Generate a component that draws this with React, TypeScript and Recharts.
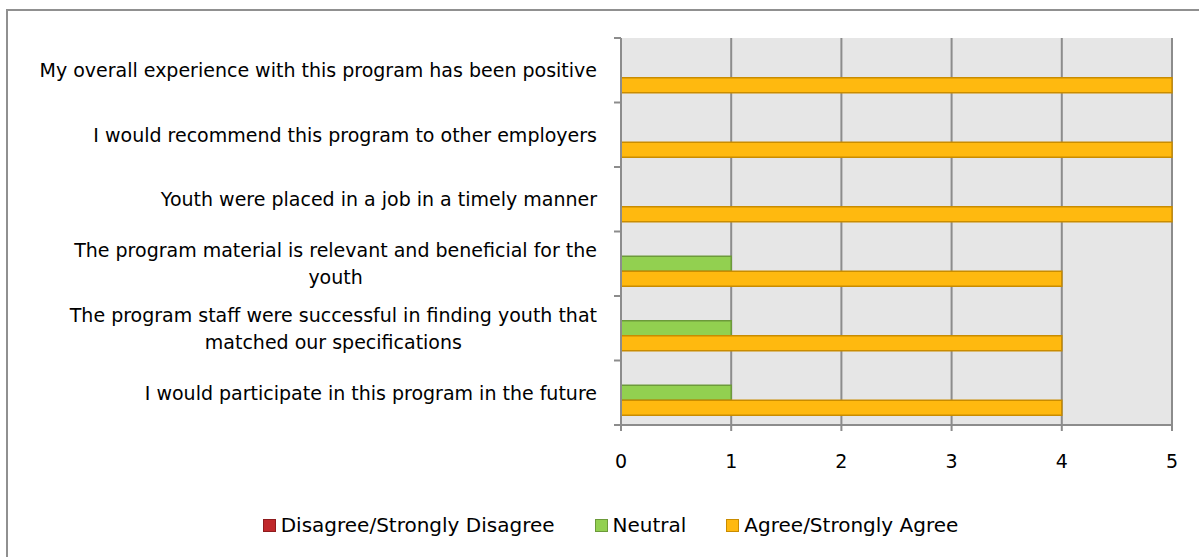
import React from 'react';
import { BarChart, Bar, XAxis, YAxis, CartesianGrid, Legend } from 'recharts';

const categories = [
  'My overall experience with this program has been positive',
  'I would recommend this program to other employers',
  'Youth were placed in a job in a timely manner',
  'The program material is relevant and beneficial for the youth',
  'The program staff were successful in finding youth that matched our specifications',
  'I would participate in this program in the future',
];
const disagreeValues = [0, 0, 0, 0, 0, 0];
const neutralValues = [0, 0, 0, 1, 1, 1];
const agreeValues = [5, 5, 5, 4, 4, 4];
const xTicks = [0, 1, 2, 3, 4, 5];

const seriesInfo = [
  { key: 'disagree', name: 'Disagree/Strongly Disagree', fill: '#C0282B', stroke: '#8E1C1E' },
  { key: 'neutral', name: 'Neutral', fill: '#92D050', stroke: '#6C9A3A' },
  { key: 'agree', name: 'Agree/Strongly Agree', fill: '#FFB90F', stroke: '#C98C00' },
];

const data = categories.map((name, i) => ({
  name,
  disagree: disagreeValues[i],
  neutral: neutralValues[i],
  agree: agreeValues[i],
}));

const W = 1199;
const H = 557;
const TOP = 38;
const BOTTOM = 132;
const PLOT_LEFT = 621;
const BAND = (H - TOP - BOTTOM) / categories.length;
const FONT = '"DejaVu Sans", sans-serif';
const LABEL_SIZE = 19;
const GRID = '#8c8c8c';

let ctx: CanvasRenderingContext2D | null = null;
const measure = (s: string) => {
  if (!ctx) ctx = document.createElement('canvas').getContext('2d');
  if (!ctx) return s.length * 10;
  ctx.font = `${LABEL_SIZE}px ${FONT}`;
  return ctx.measureText(s).width;
};

const wrapText = (text: string, max: number) => {
  const words = text.split(' ');
  const lines: string[] = [];
  let cur = '';
  words.forEach((w) => {
    const next = cur ? cur + ' ' + w : w;
    if (cur && measure(next) > max) {
      lines.push(cur);
      cur = w;
    } else cur = next;
  });
  if (cur) lines.push(cur);
  return lines;
};

const CategoryTick = (props: any) => {
  const { x, y, payload, index } = props;
  const lines = wrapText(payload.value, 570);
  const widest = Math.max(...lines.map(measure));
  const cx = x - widest / 2;
  const lh = 27;
  const startY = y - ((lines.length - 1) * lh) / 2;
  return (
    <g>
      <line x1={PLOT_LEFT - 7} x2={PLOT_LEFT} y1={y - BAND / 2} y2={y - BAND / 2} stroke={GRID} strokeWidth={2} />
      {index === categories.length - 1 && (
        <line x1={PLOT_LEFT - 7} x2={PLOT_LEFT} y1={y + BAND / 2} y2={y + BAND / 2} stroke={GRID} strokeWidth={2} />
      )}
      <text
        x={cx}
        y={startY}
        textAnchor="middle"
        dominantBaseline="central"
        fontFamily={FONT}
        fontSize={LABEL_SIZE}
        fill="#000"
      >
        {lines.map((l, i) => (
          <tspan key={i} x={cx} y={startY + i * lh}>
            {l}
          </tspan>
        ))}
      </text>
    </g>
  );
};

const LegendContent = () => (
  <div
    style={{
      display: 'flex',
      justifyContent: 'center',
      alignItems: 'center',
      height: 30,
      paddingLeft: 22,
      fontFamily: FONT,
      fontSize: 20,
      color: '#000',
    }}
  >
    {seriesInfo.map((s, i) => (
      <div
        key={s.key}
        style={{ display: 'flex', alignItems: 'center', marginRight: i < seriesInfo.length - 1 ? 40 : 0 }}
      >
        <span
          style={{
            display: 'inline-block',
            width: 11,
            height: 11,
            background: s.fill,
            border: `1.5px solid ${s.stroke}`,
            marginRight: 5,
          }}
        />
        <span>{s.name}</span>
      </div>
    ))}
  </div>
);

export default function App() {
  return (
    <div style={{ position: 'relative', width: W, height: H, overflow: 'hidden', background: '#fff' }}>
      <style>{'body{margin:0}'}</style>
      <div
        style={{
          position: 'absolute',
          left: 6,
          top: 9,
          width: 1400,
          height: 800,
          border: '2px solid #909090',
        }}
      />
      <div style={{ position: 'absolute', left: 0, top: 0 }}>
        <BarChart
          width={W}
          height={H}
          data={data}
          layout="vertical"
          margin={{ top: TOP, right: 27, left: 0, bottom: 32 }}
          barCategoryGap="15%"
          barGap={0}
        >
          <CartesianGrid horizontal={false} stroke={GRID} strokeWidth={2} fill="#e6e6e6" />
          <XAxis
            type="number"
            domain={[0, 5]}
            ticks={xTicks}
            height={70}
            axisLine={{ stroke: GRID, strokeWidth: 2 }}
            tickLine={{ stroke: GRID, strokeWidth: 2 }}
            tickSize={6}
            tickMargin={24}
            tick={{ fill: '#000', fontSize: 19, fontFamily: FONT }}
          />
          <YAxis
            type="category"
            dataKey="name"
            width={PLOT_LEFT}
            axisLine={{ stroke: GRID, strokeWidth: 2 }}
            tickLine={false}
            tickSize={0}
            tickMargin={24}
            interval={0}
            tick={<CategoryTick />}
          />
          <Legend
            verticalAlign="bottom"
            height={30}
            content={<LegendContent />}
            wrapperStyle={{ bottom: 17, left: 0, width: W }}
          />
          {seriesInfo.map((s) => (
            <Bar
              key={s.key}
              dataKey={s.key}
              name={s.name}
              fill={s.fill}
              stroke={s.stroke}
              strokeWidth={1.5}
              isAnimationActive={false}
            />
          ))}
        </BarChart>
      </div>
    </div>
  );
}
